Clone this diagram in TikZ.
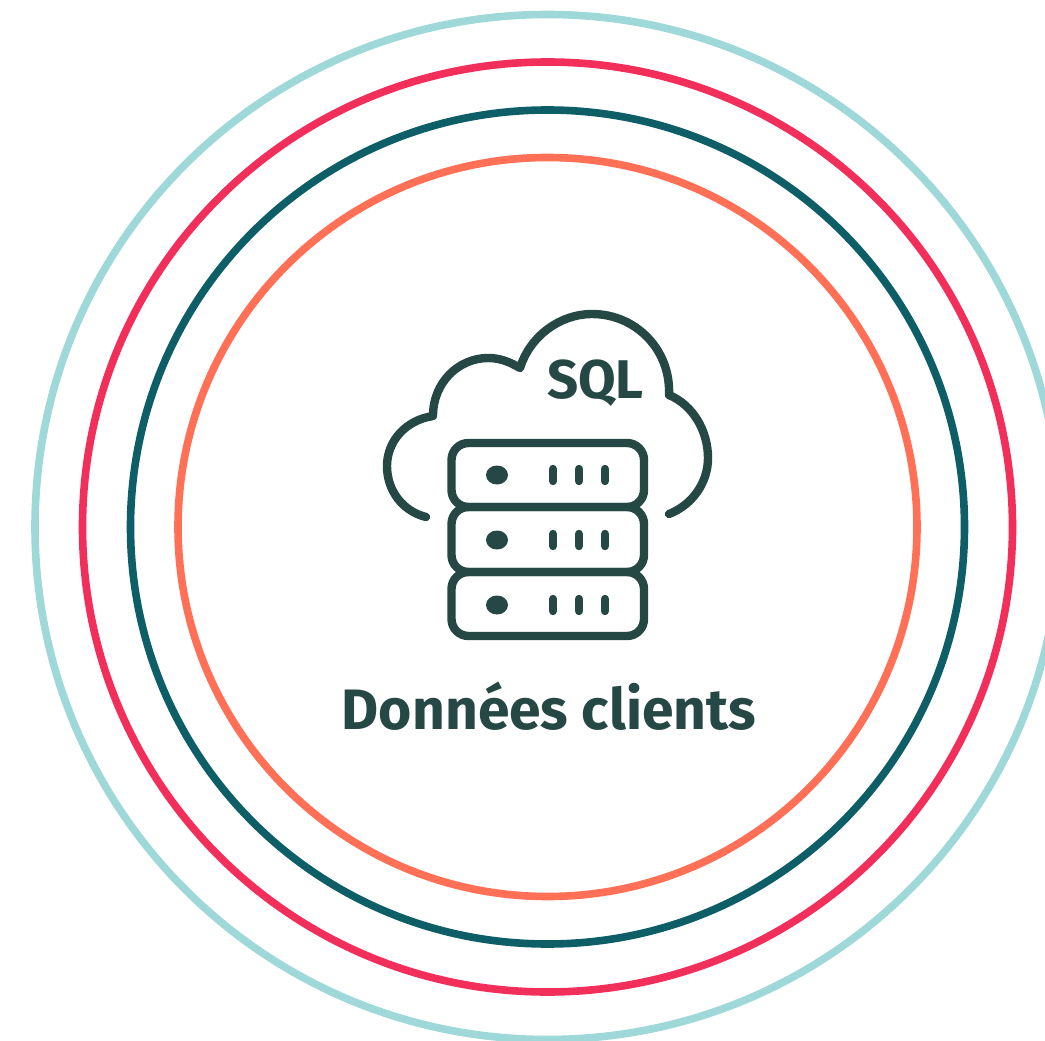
\documentclass[tikz,border=0pt]{standalone}
\usepackage{fontspec}
\setmainfont{Fira Sans}
\definecolor{ringa}{HTML}{9FD8D8}
\definecolor{ringb}{HTML}{F22E5B}
\definecolor{ringc}{HTML}{0E5E68}
\definecolor{ringd}{HTML}{FF7057}
\definecolor{ink}{HTML}{264845}
\tikzset{ring/.style={line width=7.6pt,draw=#1},icon/.style={line width=8.4pt,draw=ink,line cap=round,line join=round},
srv/.style={icon,rounded corners=17pt},
lbl/.style={text=ink,anchor=base,inner sep=0pt,font=\fontsize{#1}{#1}\selectfont\bfseries}}
\begin{document}
\begin{tikzpicture}[x=1pt,y=-1pt]
\useasboundingbox (0,0) rectangle (1045,1041);
\clip (0,0) rectangle (1045,1041);
\fill[white] (0,0) rectangle (1045,1041);
\coordinate (c) at (547.5,527);
\draw[ring=ringa] (c) circle[radius=512.5];
\draw[ring=ringb] (c) circle[radius=465];
\draw[ring=ringc] (c) circle[radius=417];
\draw[ring=ringd] (c) circle[radius=369.5];
\draw[icon] (426,517) .. controls (402,511) and (387,490) .. (387,466) .. controls (387,441) and (406,420) .. (433,416) .. controls (433,382) and (459,358) .. (488,358) .. controls (500,358) and (510,362) .. (520,368) .. controls (530,336) and (560,314) .. (592,314) .. controls (636,314) and (671,350) .. (669,395) .. controls (693,405) and (708,431) .. (708,458) .. controls (708,483) and (692,505) .. (669,514);
\draw[srv] (451.5,443) rectangle (644,507);
\draw[srv] (451.5,507) rectangle (644,572);
\draw[srv] (451.5,572) rectangle (644,636);
\foreach \y in {475,540,605}{
\fill[ink] (497,\y) ellipse[x radius=11,y radius=9.5];
\foreach \x in {553,579,605}{\draw[icon] (\x,\y-6) -- (\x,\y+6);}
}
\node[lbl=54.5] (sql) at (595.5,398.5) {SQL};
\node[lbl=57] (lab) at (549,729) {Données clients};
\end{tikzpicture}
\end{document}
